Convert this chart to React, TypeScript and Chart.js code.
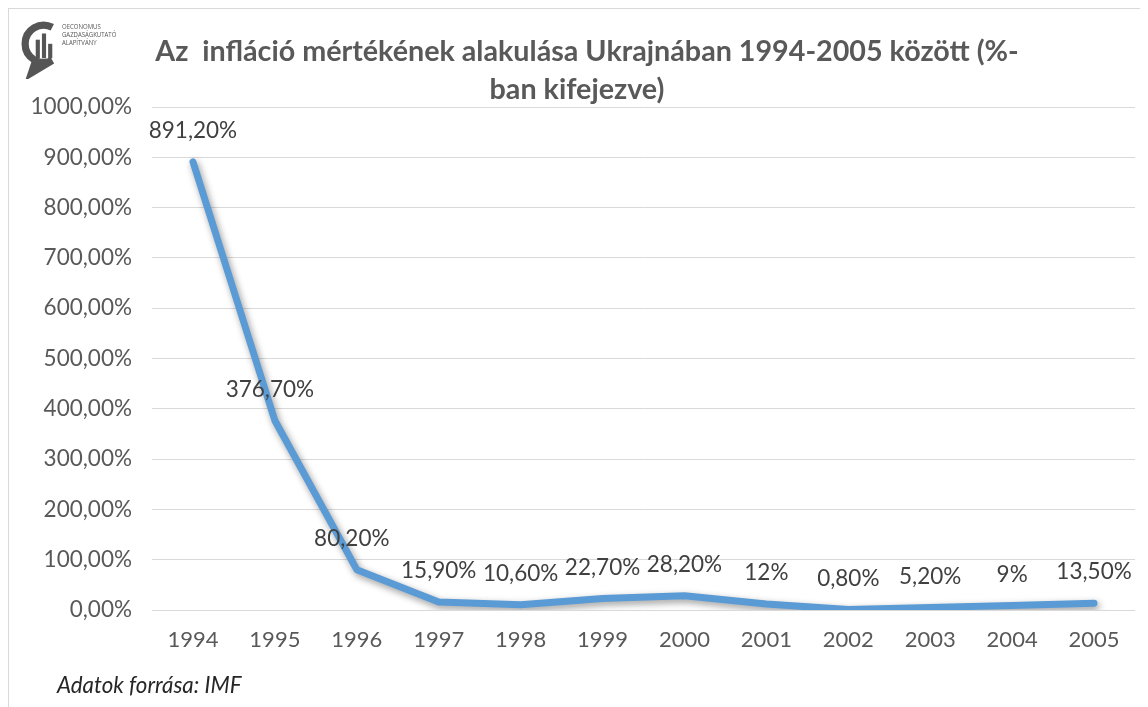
import React, { useEffect, useRef } from "react";
import { Chart, registerables } from "chart.js";

Chart.register(...registerables);

const years = ["1994", "1995", "1996", "1997", "1998", "1999", "2000", "2001", "2002", "2003", "2004", "2005"];
const inflation = [891.2, 376.7, 80.2, 15.9, 10.6, 22.7, 28.2, 12, 0.8, 5.2, 9, 13.5];
const valueLabels = ["891,20%", "376,70%", "80,20%", "15,90%", "10,60%", "22,70%", "28,20%", "12%", "0,80%", "5,20%", "9%", "13,50%"];
const titleLines = ["Az  infláció mértékének alakulása Ukrajnában 1994-2005 között (%-", "ban kifejezve)"];
const sourceNote = "Adatok forrása: IMF";
const logoLines = ["OECONOMUS", "GAZDASÁGKUTATÓ", "ALAPÍTVÁNY"];

const FONT = "Lato, 'Open Sans', sans-serif";

export default function App() {
  const ref = useRef<HTMLCanvasElement | null>(null);

  useEffect(() => {
    if (!ref.current) return;
    const shadowPlugin = {
      id: "lineShadow",
      beforeDatasetDraw(chart: any) {
        const c = chart.ctx;
        c.save();
        c.shadowColor = "rgba(0,0,0,0.4)";
        c.shadowBlur = 7;
        c.shadowOffsetX = 2;
        c.shadowOffsetY = 3;
      },
      afterDatasetDraw(chart: any) {
        chart.ctx.restore();
      },
    };
    const labelPlugin = {
      id: "valueLabels",
      afterDatasetsDraw(chart: any) {
        const c = chart.ctx;
        const meta = chart.getDatasetMeta(0);
        c.save();
        c.font = `22.5px ${FONT}`;
        c.fillStyle = "#404040";
        c.textAlign = "center";
        c.textBaseline = "middle";
        meta.data.forEach((pt: any, i: number) => {
          const dx = i === 1 || i === 2 ? -5 : 0;
          c.fillText(valueLabels[i], pt.x + dx, pt.y - 31);
        });
        c.restore();
      },
    };
    const chart = new Chart(ref.current, {
      type: "line",
      data: {
        labels: years,
        datasets: [
          {
            data: inflation,
            borderColor: "#5B9BD5",
            borderWidth: 7,
            pointRadius: 0,
            tension: 0,
            borderJoinStyle: "round",
            borderCapStyle: "round",
            fill: false,
          },
        ],
      },
      options: {
        animation: false,
        responsive: false,
        maintainAspectRatio: false,
        layout: { padding: { left: 0, top: 98, right: 13, bottom: 47 } },
        plugins: { legend: { display: false }, tooltip: { enabled: false }, title: { display: false } },
        scales: {
          x: {
            offset: true,
            grid: { display: false, drawTicks: false },
            border: { display: false },
            ticks: { color: "#595959", font: { family: FONT, size: 22 }, padding: 17, maxRotation: 0 },
            afterFit: (s: any) => {
              s.height = 50;
            },
          },
          y: {
            min: 0,
            max: 1000,
            grid: { color: "#d9d9d9", lineWidth: 1, drawTicks: false },
            border: { display: false },
            ticks: {
              stepSize: 100,
              color: "#595959",
              font: { family: FONT, size: 22.5 },
              padding: 20,
              callback: (v: any) => Number(v).toFixed(2).replace(".", ",") + "%",
            },
            afterFit: (s: any) => {
              s.width = 143;
            },
          },
        },
      },
      plugins: [shadowPlugin, labelPlugin],
    } as any);
    return () => chart.destroy();
  }, []);

  return (
    <div
      style={{
        position: "relative",
        width: 1139,
        height: 698,
        borderLeft: "1px solid #d9d9d9",
        borderTop: "1px solid #d9d9d9",
        overflow: "hidden",
        background: "#fff",
        fontFamily: FONT,
      }}
    >
      <canvas ref={ref} width={1139} height={698} style={{ position: "absolute", left: 0, top: 0 }} />
      <svg width={46} height={60} viewBox="0 0 44 58" style={{ position: "absolute", left: 12, top: 10 }}>
        <path d="M30 8 A18 18 0 1 0 30 40 L10 52 L14 40" fill="none" stroke="#555" strokeWidth={7} />
        <rect x={14} y={20} width={4} height={18} fill="#555" />
        <rect x={20} y={14} width={4} height={24} fill="#555" />
        <rect x={26} y={24} width={4} height={14} fill="#555" />
      </svg>
      <div
        style={{
          position: "absolute",
          left: 53,
          top: 13,
          fontSize: 7.5,
          lineHeight: "8px",
          color: "#555",
          fontFamily: "'Open Sans', sans-serif",
          transform: "scaleX(0.8)",
          transformOrigin: "left top",
          whiteSpace: "pre",
        }}
      >
        {logoLines.map((l) => (
          <div key={l}>{l}</div>
        ))}
      </div>
      <div
        style={{
          position: "absolute",
          left: 0,
          width: 1156,
          top: 24,
          textAlign: "center",
          fontSize: 28.7,
          fontWeight: 700,
          color: "#595959",
          whiteSpace: "pre",
        }}
      >
        {titleLines[0]}
      </div>
      <div
        style={{
          position: "absolute",
          left: 0,
          width: 1136,
          top: 62,
          textAlign: "center",
          fontSize: 28.7,
          fontWeight: 700,
          color: "#595959",
          whiteSpace: "pre",
        }}
      >
        {titleLines[1]}
      </div>
      <div style={{ position: "absolute", left: 48, top: 662, fontSize: 22.3, fontStyle: "italic", color: "#262626" }}>
        {sourceNote}
      </div>
    </div>
  );
}
